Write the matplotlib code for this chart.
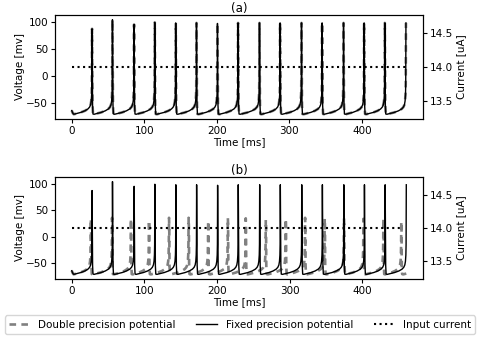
import numpy as np
import matplotlib
matplotlib.use('Agg')
import matplotlib.pyplot as plt
from matplotlib.ticker import MultipleLocator

# spike times [ms] and peak voltages [mV]
fixed_spike_t = [28.0, 56.1, 85.9, 114.4, 143.3, 171.9, 200.8, 229.2, 258.7,
                 287.1, 316.6, 345.0, 374.5, 402.9, 431.4, 460.5]
fixed_spike_v = [88, 105, 96, 100, 99, 99, 98, 99, 99, 99, 99, 99, 99, 99, 99, 99]

# (a): double precision sits on top of the fixed precision trace
a_double_spike_t = fixed_spike_t
a_double_spike_v = fixed_spike_v

# (b): double precision trace
b_double_spike_t = [26.3, 55.5, 81.5, 106.3, 133.9, 160.9, 187.8, 214.9, 239.5,
                    267.1, 294.6, 321.2, 348.2, 374.8, 401.5, 429.0, 453.6]
b_double_spike_v = [34, 36, 34, 31, 36, 36, 30, 36, 35, 32, 34, 36, 35, 35, 34, 35, 29]

# shape of the membrane potential between two spikes (fraction of the interval, mV)
isi_phase = [0.012, 0.025, 0.045, 0.1, 0.25, 0.45, 0.65, 0.8, 0.88, 0.93, 0.96, 0.98, 0.99]
isi_volt = [20, -55, -71.5, -72, -70.5, -68.5, -65.5, -62, -58.5, -54, -47, -35, -15]
start_t = [0.0, 1.5]
start_v = [-65, -70]

t_end = 460.5
current_value = 14.0
a_current_t = [0, 461]
b_current_t = [0, 455]


def trace(spike_t, spike_v):
    t = list(start_t)
    v = list(start_v)
    prev = 0.0
    for i, (ts, vp) in enumerate(zip(spike_t, spike_v)):
        isi = ts - prev
        for ph, vv in zip(isi_phase, isi_volt):
            if i == 0 and ph < 0.1:
                continue
            t.append(prev + ph * isi)
            v.append(vv)
        t.append(ts)
        v.append(vp)
        prev = ts
    if prev < t_end:
        isi = np.mean(np.diff(spike_t))
        for ph, vv in zip(isi_phase, isi_volt):
            if prev + ph * isi < t_end:
                t.append(prev + ph * isi)
                v.append(vv)
        t.append(t_end)
        v.append(v[-1])
    return t, v


fig = plt.figure(figsize=(4.8, 3.39), dpi=100)
fs = 7.5

panels = [
    ('(a)', [0.1146, 0.649, 0.7667, 0.3068], a_double_spike_t, a_double_spike_v, a_current_t),
    ('(b)', [0.1146, 0.177, 0.7667, 0.3009], b_double_spike_t, b_double_spike_v, b_current_t),
]

for title, rect, dt, dv, ct in panels:
    ax = fig.add_axes(rect)
    td, vd = trace(dt, dv)
    tf, vf = trace(fixed_spike_t, fixed_spike_v)
    l1, = ax.plot(td, vd, color='gray', lw=1.9, dashes=(2.5, 2), label='Double precision potential')
    l2, = ax.plot(tf, vf, color='black', lw=1.0, label='Fixed precision potential')
    ax.set_xlabel('Time [ms]', fontsize=fs, labelpad=1)
    ax.set_ylabel('Voltage [mv]', fontsize=fs, labelpad=1)
    ax.set_title(title, fontsize=8.5, pad=2)
    ax.xaxis.set_major_locator(MultipleLocator(100))
    ax.yaxis.set_major_locator(MultipleLocator(50))
    ax.tick_params(labelsize=fs, length=3, pad=2)
    ax2 = ax.twinx()
    l3, = ax2.plot(ct, [current_value] * len(ct), color='black', lw=1.5, ls=':', label='Input current')
    ax2.set_ylabel('Current [uA]', fontsize=fs, labelpad=2)
    ax2.yaxis.set_major_locator(MultipleLocator(0.5))
    ax2.tick_params(labelsize=fs, length=3, pad=2)

fig.legend(handles=[l1, l2, l3], loc='lower center', ncol=3, fontsize=fs,
           bbox_to_anchor=(0.5, 0.0), handlelength=2.0)

plt.savefig('out.png', dpi=100)
